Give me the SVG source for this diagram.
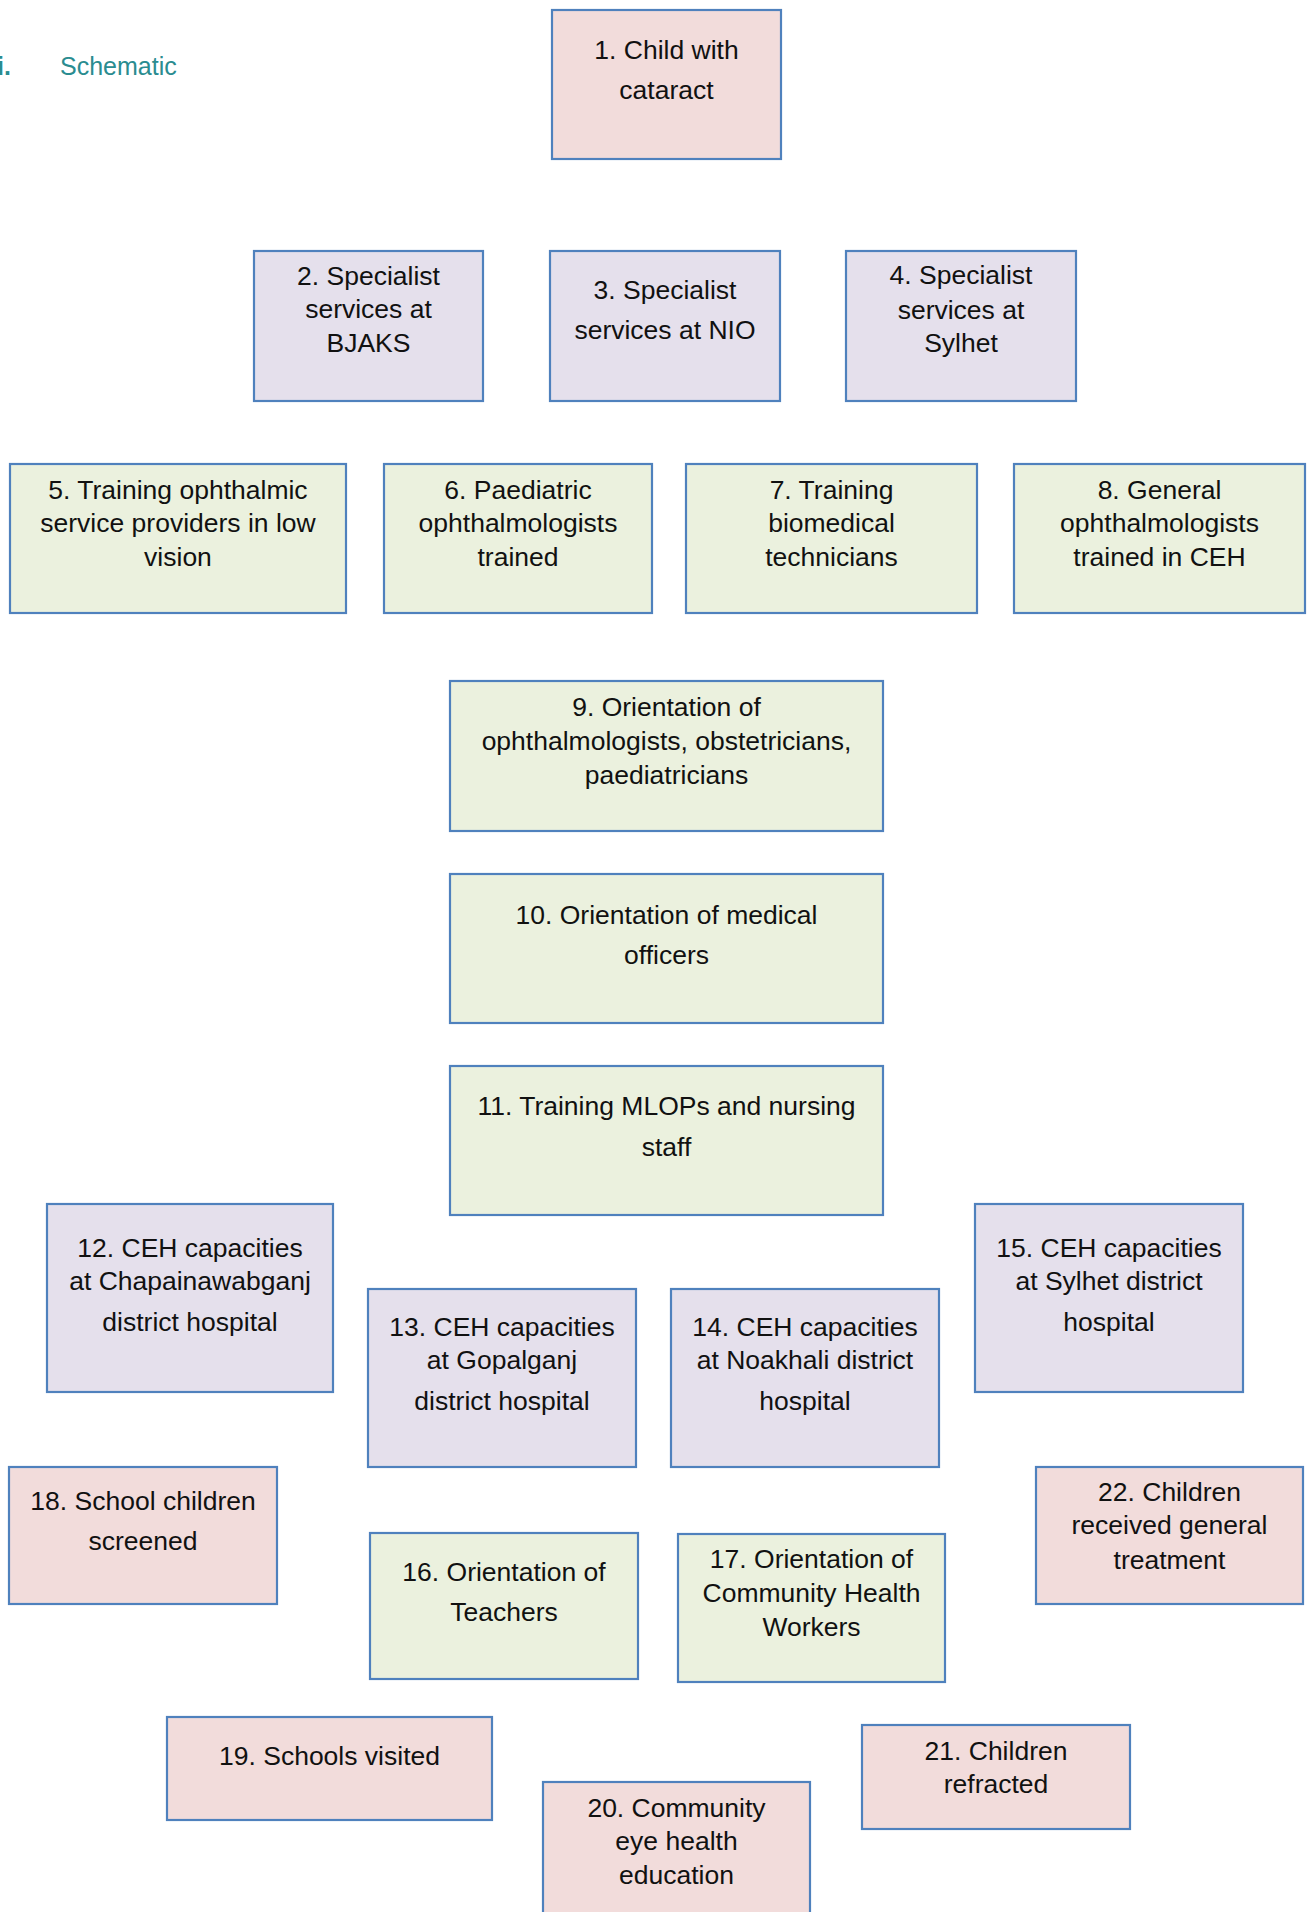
<svg xmlns="http://www.w3.org/2000/svg" width="1308" height="1912" viewBox="0 0 1308 1912">
<style>
.box{stroke:#4f81bd;stroke-width:2.2}
.pink{fill:#f2dcdb}
.lav{fill:#e5e0ec}
.grn{fill:#ebf1de}
.t{font-family:"Liberation Sans",Arial,sans-serif;font-size:26.5px;fill:#111;text-anchor:middle}
.title{font-family:"Liberation Sans",Arial,sans-serif;font-size:25px;fill:#2a8c90}
</style>
<rect x="0" y="0" width="1308" height="1912" fill="#ffffff"/>
<g id="title">
<text class="title" x="-3" y="75" font-weight="bold" fill="#1d7580">i.</text>
<text class="title" x="60" y="75">Schematic</text>
</g>
<g id="connectors"></g>
<g id="n1"><rect class="box pink" x="552" y="10" width="229" height="149"/><text class="t" x="666.5" y="59">1. Child with</text><text class="t" x="666.5" y="99">cataract</text></g>
<g id="n2"><rect class="box lav" x="254" y="251" width="229" height="150"/><text class="t" x="368.5" y="285">2. Specialist</text><text class="t" x="368.5" y="318">services at</text><text class="t" x="368.5" y="352">BJAKS</text></g>
<g id="n3"><rect class="box lav" x="550" y="251" width="230" height="150"/><text class="t" x="665" y="299">3. Specialist</text><text class="t" x="665" y="339">services at NIO</text></g>
<g id="n4"><rect class="box lav" x="846" y="251" width="230" height="150"/><text class="t" x="961" y="284">4. Specialist</text><text class="t" x="961" y="319">services at</text><text class="t" x="961" y="352">Sylhet</text></g>
<g id="n5"><rect class="box grn" x="10" y="464" width="336" height="149"/><text class="t" x="178" y="499">5. Training ophthalmic</text><text class="t" x="178" y="532">service providers in low</text><text class="t" x="178" y="566">vision</text></g>
<g id="n6"><rect class="box grn" x="384" y="464" width="268" height="149"/><text class="t" x="518" y="499">6. Paediatric</text><text class="t" x="518" y="532">ophthalmologists</text><text class="t" x="518" y="566">trained</text></g>
<g id="n7"><rect class="box grn" x="686" y="464" width="291" height="149"/><text class="t" x="831.5" y="499">7. Training</text><text class="t" x="831.5" y="532">biomedical</text><text class="t" x="831.5" y="566">technicians</text></g>
<g id="n8"><rect class="box grn" x="1014" y="464" width="291" height="149"/><text class="t" x="1159.5" y="499">8. General</text><text class="t" x="1159.5" y="532">ophthalmologists</text><text class="t" x="1159.5" y="566">trained in CEH</text></g>
<g id="n9"><rect class="box grn" x="450" y="681" width="433" height="150"/><text class="t" x="666.5" y="716">9. Orientation of</text><text class="t" x="666.5" y="750">ophthalmologists, obstetricians,</text><text class="t" x="666.5" y="784">paediatricians</text></g>
<g id="n10"><rect class="box grn" x="450" y="874" width="433" height="149"/><text class="t" x="666.5" y="924">10. Orientation of medical</text><text class="t" x="666.5" y="964">officers</text></g>
<g id="n11"><rect class="box grn" x="450" y="1066" width="433" height="149"/><text class="t" x="666.5" y="1115">11. Training MLOPs and nursing</text><text class="t" x="666.5" y="1156">staff</text></g>
<g id="n12"><rect class="box lav" x="47" y="1204" width="286" height="188"/><text class="t" x="190" y="1257">12. CEH capacities</text><text class="t" x="190" y="1290">at Chapainawabganj</text><text class="t" x="190" y="1331">district hospital</text></g>
<g id="n13"><rect class="box lav" x="368" y="1289" width="268" height="178"/><text class="t" x="502" y="1336">13. CEH capacities</text><text class="t" x="502" y="1369">at Gopalganj</text><text class="t" x="502" y="1410">district hospital</text></g>
<g id="n14"><rect class="box lav" x="671" y="1289" width="268" height="178"/><text class="t" x="805" y="1336">14. CEH capacities</text><text class="t" x="805" y="1369">at Noakhali district</text><text class="t" x="805" y="1410">hospital</text></g>
<g id="n15"><rect class="box lav" x="975" y="1204" width="268" height="188"/><text class="t" x="1109" y="1257">15. CEH capacities</text><text class="t" x="1109" y="1290">at Sylhet district</text><text class="t" x="1109" y="1331">hospital</text></g>
<g id="n18"><rect class="box pink" x="9" y="1467" width="268" height="137"/><text class="t" x="143" y="1510">18. School children</text><text class="t" x="143" y="1550">screened</text></g>
<g id="n16"><rect class="box grn" x="370" y="1533" width="268" height="146"/><text class="t" x="504" y="1581">16. Orientation of</text><text class="t" x="504" y="1621">Teachers</text></g>
<g id="n17"><rect class="box grn" x="678" y="1534" width="267" height="148"/><text class="t" x="811.5" y="1568">17. Orientation of</text><text class="t" x="811.5" y="1602">Community Health</text><text class="t" x="811.5" y="1636">Workers</text></g>
<g id="n22"><rect class="box pink" x="1036" y="1467" width="267" height="137"/><text class="t" x="1169.5" y="1501">22. Children</text><text class="t" x="1169.5" y="1534">received general</text><text class="t" x="1169.5" y="1569">treatment</text></g>
<g id="n19"><rect class="box pink" x="167" y="1717" width="325" height="103"/><text class="t" x="329.5" y="1765">19. Schools visited</text></g>
<g id="n20"><rect class="box pink" x="543" y="1782" width="267" height="150"/><text class="t" x="676.5" y="1817">20. Community</text><text class="t" x="676.5" y="1850">eye health</text><text class="t" x="676.5" y="1884">education</text></g>
<g id="n21"><rect class="box pink" x="862" y="1725" width="268" height="104"/><text class="t" x="996" y="1760">21. Children</text><text class="t" x="996" y="1793">refracted</text></g>
</svg>
